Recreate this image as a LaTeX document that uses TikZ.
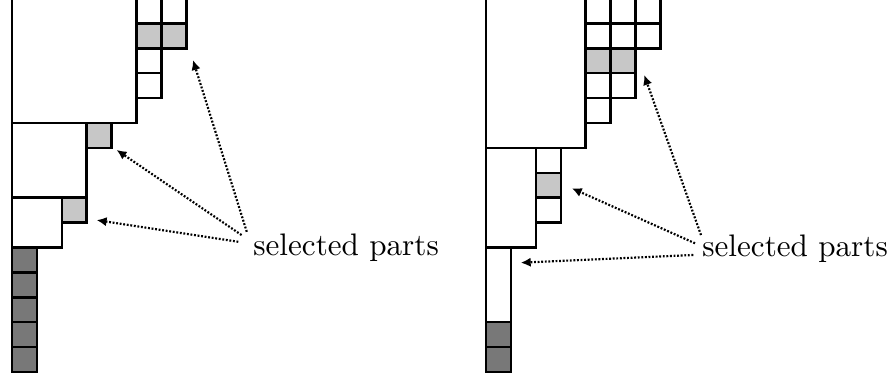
\documentclass[tikz,border=0pt]{standalone}
\usetikzlibrary{arrows.meta}
\definecolor{lightcell}{gray}{0.78}
\definecolor{darkcell}{gray}{0.47}
\tikzset{
  cell/.style={draw=black,line width=0.8pt,fill=white},
  lcell/.style={cell,fill=lightcell},
  dcell/.style={cell,fill=darkcell},
  pointer/.style={line width=0.7pt,dash pattern=on 0.6pt off 0.55pt,-{Latex[length=3.2pt,width=3pt]}},
  label/.style={inner sep=0pt,anchor=base west,font=\fontsize{10}{12}\selectfont}
}
\begin{document}
\begin{tikzpicture}[x=8pt,y=8pt]
\useasboundingbox (-0.48,-0.36) rectangle (35.42,14.94);
\clip (-0.48,-0.36) rectangle (35.42,14.94);
% ---------- left figure ----------
\foreach \i in {0,...,4} {\draw[dcell] (0,\i) rectangle ++(1,1);}
\draw[cell] (0,5) rectangle (2,7);
\draw[lcell] (2,6) rectangle (3,7);
\draw[cell] (0,7) rectangle (3,10);
\draw[lcell] (3,9) rectangle (4,10);
\draw[cell] (0,10) rectangle (5,16);
\foreach \j in {11,12,14,15} {\draw[cell] (5,\j) rectangle ++(1,1);}
\draw[lcell] (5,13) rectangle (6,14);
\draw[lcell] (6,13) rectangle (7,14);
\foreach \j in {14,15} {\draw[cell] (6,\j) rectangle ++(1,1);}
\node[label] (txtL) at (9.67,4.66) {selected parts};
\coordinate (tL1) at (7.27,12.53);
\coordinate (tL2) at (4.20,8.92);
\coordinate (tL3) at (3.40,6.10);
\coordinate (sL1) at (9.43,5.63);
\coordinate (sL2) at (9.22,5.50);
\coordinate (sL3) at (9.09,5.23);
\draw[pointer] (sL1) -- (tL1);
\draw[pointer] (sL2) -- (tL2);
\draw[pointer] (sL3) -- (tL3);
% ---------- right figure ----------
\begin{scope}[shift={(19.04,0)}]
\foreach \i in {0,1} {\draw[dcell] (0,\i) rectangle ++(1,1);}
\draw[cell] (0,2) rectangle (1,5);
\draw[cell] (0,5) rectangle (2,9);
\draw[cell] (2,6) rectangle (3,7);
\draw[lcell] (2,7) rectangle (3,8);
\draw[cell] (2,8) rectangle (3,9);
\draw[cell] (0,9) rectangle (4,16);
\foreach \j in {10,11,13,14,15} {\draw[cell] (4,\j) rectangle ++(1,1);}
\draw[lcell] (4,12) rectangle (5,13);
\foreach \j in {11,13,14,15} {\draw[cell] (5,\j) rectangle ++(1,1);}
\draw[lcell] (5,12) rectangle (6,13);
\foreach \j in {13,14,15} {\draw[cell] (6,\j) rectangle ++(1,1);}
\end{scope}
\node[label] (txtR) at (27.70,4.64) {selected parts};
\coordinate (tR1) at (25.39,11.93);
\coordinate (tR2) at (22.48,7.38);
\coordinate (tR3) at (20.43,4.39);
\coordinate (sR1) at (27.67,5.50);
\coordinate (sR2) at (27.43,5.17);
\coordinate (sR3) at (27.36,4.70);
\draw[pointer] (sR1) -- (tR1);
\draw[pointer] (sR2) -- (tR2);
\draw[pointer] (sR3) -- (tR3);
\end{tikzpicture}
\end{document}
